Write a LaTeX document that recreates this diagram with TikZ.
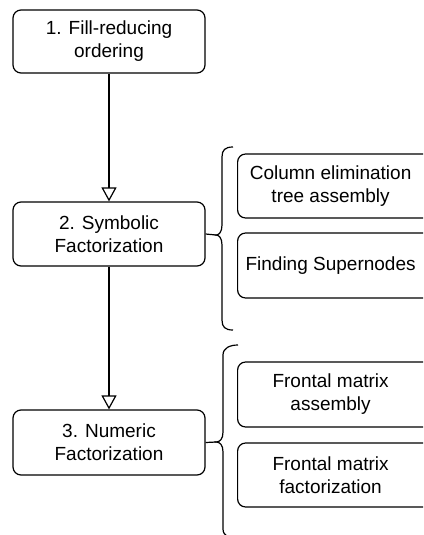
\documentclass[tikz,border=0pt]{standalone}
\usepackage{fontspec}
\setmainfont{Liberation Sans}
\usetikzlibrary{arrows.meta}
\begin{document}
\begin{tikzpicture}[x=1pt,y=-1pt, line width=1.2pt,
  stepbox/.style={draw, rounded corners=8pt, align=center, inner sep=0pt,
    font=\fontsize{19}{23}\selectfont},
  flow/.style={draw, -{Triangle[open, width=15pt, length=14pt]}},
  bracepath/.style={draw}]
\useasboundingbox (0,0) rectangle (423,535);
\clip (0,0) rectangle (423,535);
% main steps
\node[stepbox, minimum width=192pt, minimum height=63pt] (s1) at (109,41.5) {1. Fill-reducing\\ordering};
\node[stepbox, minimum width=192pt, minimum height=64pt] (s2) at (109,234) {2. Symbolic\\Factorization};
\node[stepbox, minimum width=192pt, minimum height=65pt] (s3) at (109,442.5) {3. Numeric\\Factorization};
% sub steps (clipped at right edge)
\node[stepbox, minimum width=200pt, minimum height=64pt, anchor=west] (a) at (237,186) {\hspace*{-14pt}Column elimination\\\hspace*{-14pt}tree assembly};
\node[stepbox, minimum width=200pt, minimum height=65pt, anchor=west] (b) at (237,265.5) {\hspace*{-14pt}Finding Supernodes};
\node[stepbox, minimum width=200pt, minimum height=65pt, anchor=west] (c) at (237,394.5) {\hspace*{-14pt}Frontal matrix\\\hspace*{-14pt}assembly};
\node[stepbox, minimum width=200pt, minimum height=64pt, anchor=west] (d) at (237,475) {\hspace*{-14pt}Frontal matrix\\\hspace*{-14pt}factorization};
% arrows
\draw[flow] (s1.south) -- (s2.north);
\draw[flow] (s2.south) -- (s3.north);
% braces
\coordinate (t1) at (216,235);
\coordinate (t2) at (216,442);
\draw (s2.east) -- (t1);
\draw (s3.east) -- (t2);
\draw[bracepath] (233,147) .. controls (225,147) and (222,150) .. (222,157)
  -- (222,225) .. controls (222,232) and (219,235) .. (t1)
  .. controls (219,235) and (222,238) .. (222,245)
  -- (222,320) .. controls (222,327) and (225,330) .. (233,330);
\draw[bracepath] (238,345) .. controls (230,345) and (223,348) .. (223,355)
  -- (223,432) .. controls (223,439) and (220,442) .. (t2)
  .. controls (220,442) and (223,445) .. (223,452)
  -- (223,529) .. controls (223,536) and (230,539) .. (238,539);
\end{tikzpicture}
\end{document}
